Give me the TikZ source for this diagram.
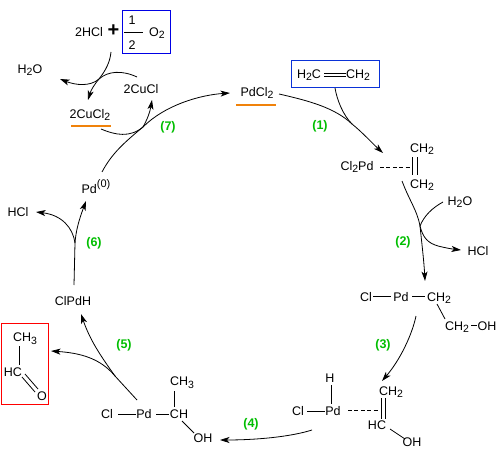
\documentclass[tikz,border=0pt]{standalone}
\usepackage{fontspec}
\setmainfont{Liberation Sans}
\usetikzlibrary{arrows.meta}
\newcommand{\sbs}[1]{\raisebox{-0.4ex}{\fontsize{10.5}{10}\selectfont #1}}
\definecolor{stepgreen}{RGB}{0,190,0}
\definecolor{markorange}{RGB}{240,130,10}
\definecolor{boxblue}{RGB}{10,50,215}
\tikzset{
  chem/.style={inner sep=1.5pt,font=\fontsize{12.5}{13}\selectfont},
  steplabel/.style={inner sep=0pt,text=stepgreen,font=\fontsize{12.5}{13}\selectfont\bfseries},
  bond/.style={draw=black,line width=0.8pt},
  dbond/.style={draw=black,line width=0.8pt,dash pattern=on 4pt off 2.4pt},
  curve/.style={draw=black,line width=0.8pt},
  tip/.style={curve,-{Stealth[length=9.5pt,width=6pt,inset=2.5pt]}},
  omark/.style={draw=markorange,line width=2pt},
  bluebox/.style={draw=blue!90!black,line width=1pt},
  etbox/.style={draw=boxblue,line width=1pt},
  redbox/.style={draw=red,line width=1pt}
}
\begin{document}
\begin{tikzpicture}[x=1pt,y=-1pt]
\useasboundingbox (0,0) rectangle (497,449);
% top left
\node[chem] (hcl) at (89,32) {2HCl};
\node[inner sep=0pt,font=\fontsize{20}{20}\selectfont\bfseries] (plus) at (113.5,31) {+};
\node[chem] (one) at (132,20) {1};
\node[chem] (two) at (132,45) {2};
\coordinate (fa) at (124,32); \coordinate (fb) at (143,32);
\draw[bond] (fa) -- (fb);
\node[chem] (o2) at (157,33) {O\sbs{2}};
\coordinate (ba) at (122.5,10.5); \coordinate (bb) at (170.5,54);
\draw[bluebox] (ba) rectangle (bb);
\node[chem] (wa) at (30,70) {H\sbs{2}O};
\node[chem] (cucl) at (141,89) {2CuCl};
\node[chem] (cucl2) at (90,115) {2CuCl\sbs{2}};
\coordinate (oa) at (71,126); \coordinate (ob) at (111,126);
\draw[omark] (oa) -- (ob);
\node[chem] (pd0) at (96,187) {Pd\raisebox{0.9ex}{\fontsize{11}{11}\selectfont (0)}};
\node[chem] (hclb) at (18,212) {HCl};
\node[chem] (pdcl) at (257,93) {PdCl\sbs{2}};
\coordinate (oc) at (236,105); \coordinate (od) at (276,105);
\draw[omark] (oc) -- (od);
% ethylene
\coordinate (ea) at (291.5,60.5); \coordinate (eb) at (379,87.5);
\draw[etbox] (ea) rectangle (eb);
\node[chem] (h2c) at (309,75) {H\sbs{2}C};
\node[chem] (ch2e) at (358,75) {CH\sbs{2}};
\coordinate (e1) at (324,73); \coordinate (e2) at (346,73);
\coordinate (e3) at (324,76); \coordinate (e4) at (346,76);
\draw[bond] (e1) -- (e2); \draw[bond] (e3) -- (e4);
% complex 1
\node[chem] (cl2pd) at (357,167) {Cl\sbs{2}Pd};
\coordinate (d1) at (380,167); \coordinate (d2) at (410,167);
\draw[dbond] (d1) -- (d2);
\node[chem] (ch2a) at (422,149) {CH\sbs{2}};
\node[chem] (ch2b) at (422,185) {CH\sbs{2}};
\coordinate (v1) at (412.5,157); \coordinate (v2) at (412.5,175);
\coordinate (v3) at (417.5,157); \coordinate (v4) at (417.5,175);
\draw[bond] (v1) -- (v2); \draw[bond] (v3) -- (v4);
\node[chem] (wb) at (460,202) {H\sbs{2}O};
\node[chem] (hclc) at (478,251) {HCl};
% complex 2
\node[chem] (cla) at (366,297) {Cl};
\node[chem] (pda) at (401,297) {Pd};
\node[chem] (ch2c) at (439,298) {CH\sbs{2}};
\node[chem] (ch2d) at (457,327) {CH\sbs{2}};
\node[chem] (oha) at (487,326) {OH};
\coordinate (b1) at (373,296); \coordinate (b2) at (391,296);
\coordinate (b3) at (412,296); \coordinate (b4) at (425,296);
\coordinate (b5) at (437,304); \coordinate (b6) at (445,319);
\coordinate (b7) at (471,325); \coordinate (b8) at (477,325);
\draw[bond] (b1) -- (b2); \draw[bond] (b3) -- (b4);
\draw[bond] (b5) -- (b6); \draw[bond] (b7) -- (b8);
% complex 3
\node[chem] (ha) at (330,378) {H};
\node[chem] (clb) at (298,411) {Cl};
\node[chem] (pdb) at (333,411) {Pd};
\node[chem] (ch2f) at (391,392) {CH\sbs{2}};
\node[chem] (hc) at (377,425) {HC};
\node[chem] (ohb) at (412,442) {OH};
\coordinate (c1) at (331.5,385); \coordinate (c2) at (331.5,404);
\coordinate (c3) at (307,411); \coordinate (c4) at (325,411);
\coordinate (c5) at (348,410.5); \coordinate (c6) at (378,410.5);
\coordinate (c7) at (381,398); \coordinate (c8) at (381,419);
\coordinate (c9) at (385,398); \coordinate (c10) at (385,419);
\coordinate (c11) at (390,429); \coordinate (c12) at (405,439);
\draw[bond] (c1) -- (c2); \draw[bond] (c3) -- (c4);
\draw[dbond] (c5) -- (c6);
\draw[bond] (c7) -- (c8); \draw[bond] (c9) -- (c10);
\draw[bond] (c11) -- (c12);
% complex 4
\node[chem] (clc) at (107,414) {Cl};
\node[chem] (pdc) at (144,414) {Pd};
\node[chem] (ch) at (179,414) {CH};
\node[chem] (ch3) at (182,383) {CH\sbs{3}};
\node[chem] (ohc) at (203,438) {OH};
\coordinate (f1) at (118,414); \coordinate (f2) at (136,414);
\coordinate (f3) at (156,414); \coordinate (f4) at (169,414);
\coordinate (f5) at (174.5,391); \coordinate (f6) at (174.5,407);
\coordinate (f7) at (182,421); \coordinate (f8) at (194,433);
\draw[bond] (f1) -- (f2); \draw[bond] (f3) -- (f4);
\draw[bond] (f5) -- (f6); \draw[bond] (f7) -- (f8);
% aldehyde
\coordinate (ra) at (1.5,323.5); \coordinate (rb) at (48.5,404);
\draw[redbox] (ra) rectangle (rb);
\node[chem] (ch3b) at (25,339) {CH\sbs{3}};
\node[chem] (hcb) at (13,372) {HC};
\node[chem] (oald) at (42,396) {O};
\coordinate (g1) at (19,346); \coordinate (g2) at (19,365);
\coordinate (g3) at (25,374); \coordinate (g4) at (38,389);
\coordinate (g5) at (22,377); \coordinate (g6) at (35,392);
\draw[bond] (g1) -- (g2); \draw[bond] (g3) -- (g4); \draw[bond] (g5) -- (g6);
\node[chem] (clpdh) at (73,301) {ClPdH};
% step labels
\node[steplabel] (s1) at (320,126) {(1)};
\node[steplabel] (s2) at (403,242) {(2)};
\node[steplabel] (s3) at (383,345) {(3)};
\node[steplabel] (s4) at (251,424) {(4)};
\node[steplabel] (s5) at (124,345) {(5)};
\node[steplabel] (s6) at (94,243) {(6)};
\node[steplabel] (s7) at (168,127) {(7)};
% arrows (1)
\coordinate (a1s) at (279,94); \coordinate (a1e) at (383,153);
\coordinate (a1b) at (335,88); \coordinate (a1j) at (352,124);
\draw[tip] (a1s) .. controls (310,101) and (335,108) .. (a1j) .. controls (362,132) and (372,143) .. (a1e);
\draw[curve] (a1b) .. controls (337,100) and (343,115) .. (a1j);
% (2)
\coordinate (a2s) at (402,181); \coordinate (a2e) at (425,281);
\coordinate (a2j) at (420,226); \coordinate (a2w) at (443,202); \coordinate (a2o) at (461,250);
\draw[tip] (a2s) .. controls (410,202) and (417,210) .. (a2j) .. controls (422,245) and (424,262) .. (a2e);
\draw[curve] (a2w) .. controls (432,208) and (424,216) .. (a2j);
\draw[tip] (a2j) .. controls (423,238) and (428,243) .. (438,246) .. controls (446,248) and (452,249) .. (a2o);
% (3)
\coordinate (a3s) at (416,316); \coordinate (a3e) at (382,381);
\draw[tip] (a3s) .. controls (412,335) and (400,360) .. (a3e);
% (4)
\coordinate (a4s) at (312,430); \coordinate (a4e) at (220,440);
\draw[tip] (a4s) .. controls (290,437) and (255,440) .. (a4e);
% (5)
\coordinate (a5s) at (137,400); \coordinate (a5j) at (115,376);
\coordinate (a5e) at (81,314); \coordinate (a5o) at (51,351);
\draw[curve] (a5s) -- (a5j);
\draw[tip] (a5j) .. controls (100,355) and (90,340) .. (a5e);
\draw[tip] (a5j) .. controls (100,358) and (80,353) .. (a5o);
% (6)
\coordinate (a6s) at (74,285); \coordinate (a6j) at (75,243);
\coordinate (a6e) at (86,201); \coordinate (a6o) at (36,212);
\draw[curve] (a6s) -- (a6j);
\draw[tip] (a6j) .. controls (76,230) and (79,220) .. (a6e);
\draw[tip] (a6j) .. controls (73,228) and (62,215) .. (a6o);
% (7)
\coordinate (a7s) at (102,172); \coordinate (a7j) at (143,127);
\coordinate (a7e) at (230,93); \coordinate (a7i) at (101,129); \coordinate (a7o) at (152,100);
\draw[tip] (a7s) .. controls (112,153) and (125,142) .. (a7j) .. controls (165,105) and (200,95) .. (a7e);
\draw[curve] (a7i) .. controls (115,135) and (130,138) .. (a7j);
\draw[tip] (a7j) .. controls (147,120) and (150,112) .. (a7o);
% top arrows
\coordinate (t1) at (111,52); \coordinate (tj) at (99,79); \coordinate (t2) at (88,100);
\coordinate (t3) at (137,77); \coordinate (t4) at (60,79);
\draw[tip] (t1) .. controls (110,62) and (106,70) .. (tj) .. controls (94,85) and (91,90) .. (t2);
\draw[tip] (t3) .. controls (122,70) and (108,71) .. (tj) .. controls (90,87) and (75,85) .. (t4);
\end{tikzpicture}
\end{document}
